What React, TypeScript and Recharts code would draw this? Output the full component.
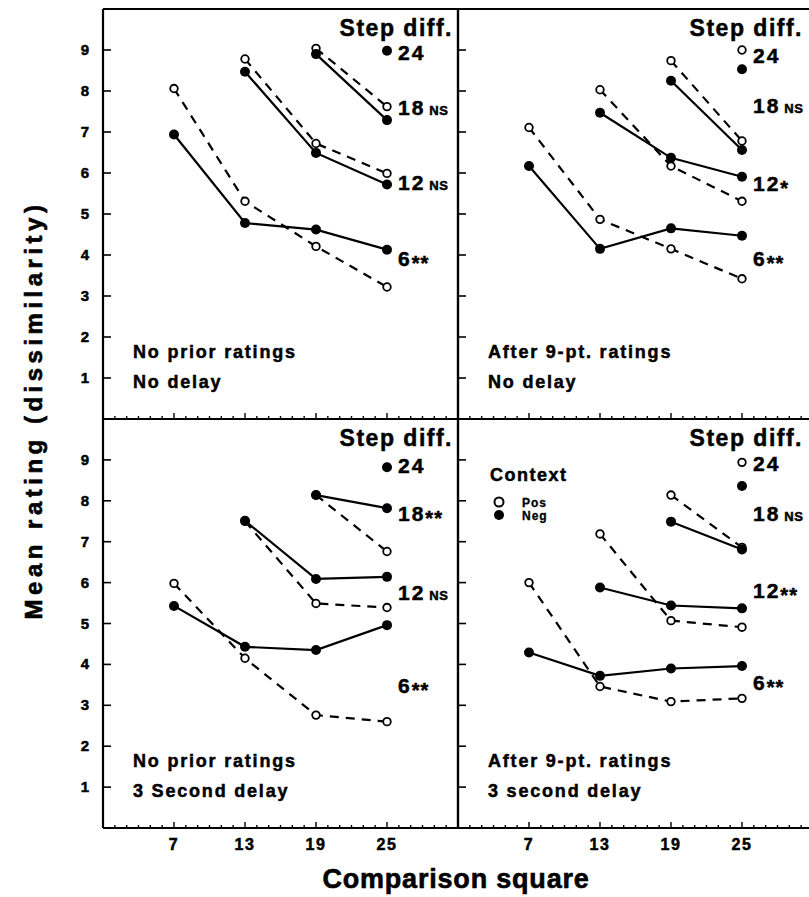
import React from "react";
import { LineChart, Line, XAxis, YAxis, ReferenceDot } from "recharts";

const COMPARISON = [7, 13, 19, 25];
const STEPS = [6, 12, 18, 24];
const X_TICKS = Array.from({ length: 31 }, (_, i) => i + 1);
const Y_TICKS = [1, 2, 3, 4, 5, 6, 7, 8, 9];

// rows: step diff 6, 12, 18, 24 -- cols: comparison square 7, 13, 19, 25
const noPriorNoDelayPos = [
    [8.06, 5.31, 4.21, 3.22],
    [null, 8.78, 6.72, 5.99],
    [null, null, 9.04, 7.62],
    [null, null, null, null],
];
const noPriorNoDelayNeg = [
    [6.94, 4.78, 4.62, 4.13],
    [null, 8.47, 6.49, 5.72],
    [null, null, 8.9, 7.29],
    [null, null, null, 8.98],
];
const afterRatingsNoDelayPos = [
    [7.11, 4.87, 4.15, 3.42],
    [null, 8.03, 6.17, 5.31],
    [null, null, 8.74, 6.78],
    [null, null, null, 9.0],
];
const afterRatingsNoDelayNeg = [
    [6.17, 4.15, 4.65, 4.47],
    [null, 7.47, 6.37, 5.91],
    [null, null, 8.25, 6.56],
    [null, null, null, 8.53],
];
const noPriorDelayPos = [
    [5.98, 4.15, 2.76, 2.6],
    [null, 7.5, 5.49, 5.39],
    [null, null, 8.14, 6.76],
    [null, null, null, null],
];
const noPriorDelayNeg = [
    [5.43, 4.43, 4.35, 4.96],
    [null, 7.51, 6.09, 6.14],
    [null, null, 8.14, 7.82],
    [null, null, null, 8.82],
];
const afterRatingsDelayPos = [
    [6.0, 3.46, 3.09, 3.17],
    [null, 7.19, 5.07, 4.91],
    [null, null, 8.14, 6.86],
    [null, null, null, 8.94],
];
const afterRatingsDelayNeg = [
    [4.29, 3.72, 3.9, 3.96],
    [null, 5.88, 5.44, 5.37],
    [null, null, 7.49, 6.81],
    [null, null, null, 8.36],
];

// significance marks for step 6, 12, 18, 24
const SIG_NO_PRIOR_NO_DELAY = ["**", "NS", "NS", ""];
const SIG_AFTER_NO_DELAY = ["**", "*", "NS", ""];
const SIG_NO_PRIOR_DELAY = ["**", "NS", "**", ""];
const SIG_AFTER_DELAY = ["**", "**", "NS", ""];

const W = 814;
const H = 897;
const FONT = '"Liberation Sans", Arial, Helvetica, sans-serif';
const AXIS = { stroke: "#000", strokeWidth: 2.2 };
// slight outline to get the heavy look of the original lettering
const HEAVY = { stroke: "#000", strokeWidth: 0.5, fill: "#000" };

const toPoints = (vals: (number | null)[]) =>
    COMPARISON.map((x, i) => ({ x, y: vals[i] })).filter((d) => d.y !== null);

const xTick = (dir: number, labels: boolean) => (props: any) => {
    const { x, y, payload } = props;
    const v = payload.value;
    const major = COMPARISON.includes(v);
    const len = major ? 6 : 3;
    return (
        <g>
            <line x1={x} x2={x} y1={y} y2={y + dir * len} stroke="#000" strokeWidth={1.4} />
            {labels && major && (
                <text x={x} y={y + 22} textAnchor="middle" fontSize={16} fontWeight={700} fontFamily={FONT} letterSpacing={1.5} {...HEAVY}>
                    {v}
                </text>
            )}
        </g>
    );
};

const yTick = (dir: number, labels: boolean) => (props: any) => {
    const { x, y, payload } = props;
    return (
        <g>
            <line x1={x} x2={x + dir * 8} y1={y} y2={y} stroke="#000" strokeWidth={1.6} />
            {labels && (
                <text x={x - 14} y={y + 5} textAnchor="end" fontSize={15} fontWeight={700} fontFamily={FONT} {...HEAVY}>
                    {payload.value}
                </text>
            )}
        </g>
    );
};

const openDot = (p: any) =>
    p.cx == null ? <g key={`o${p.index}`} /> : (
        <circle key={`o${p.index}`} cx={p.cx} cy={p.cy} r={3.8} fill="#fff" stroke="#000" strokeWidth={1.8} />
    );
const filledDot = (p: any) =>
    p.cx == null ? <g key={`f${p.index}`} /> : <circle key={`f${p.index}`} cx={p.cx} cy={p.cy} r={5} fill="#000" />;

interface PanelProps {
    pos: (number | null)[][];
    neg: (number | null)[][];
    sig: string[];
    labelY: number[];
    caption: string[];
    isLeft: boolean;
    isTop: boolean;
    legend?: boolean;
}

const Panel: React.FC<PanelProps> = ({ pos, neg, sig, labelY, caption, isLeft, isTop, legend }) => {
    // axes are 1px wide/high, so margins are 1px short of the plot frame
    const margin = {
        top: (isTop ? 9 : 419) - 1,
        bottom: (isTop ? H - 419 : H - 828) - 1,
        left: (isLeft ? 103 : 458) - 1,
        right: (isLeft ? W - 458 : W - 813) - 1,
    };
    const ids = { xAxisId: "bottom", yAxisId: "left" };
    const common = { type: "number" as const, interval: 0, tickSize: 0, tickMargin: 0, tickLine: false, axisLine: AXIS };

    return (
        <div style={{ position: "absolute", left: 0, top: 0 }}>
            <LineChart width={W} height={H} margin={margin}>
                <XAxis xAxisId="bottom" dataKey="x" domain={[1, 31]} ticks={X_TICKS} height={1} tick={xTick(-1, !isTop)} {...common} />
                <XAxis xAxisId="top" orientation="top" dataKey="x" domain={[1, 31]} ticks={X_TICKS} height={1} tick={xTick(1, false)} {...common} />
                <YAxis yAxisId="left" domain={[0, 10]} ticks={Y_TICKS} width={1} tick={yTick(1, isLeft)} {...common} />
                <YAxis yAxisId="right" orientation="right" domain={[0, 10]} ticks={Y_TICKS} width={1} tick={yTick(-1, false)} {...common} />

                {pos.map((vals, i) => (
                    <Line
                        key={`pos${i}`}
                        {...ids}
                        data={toPoints(vals)}
                        dataKey="y"
                        stroke="#000"
                        strokeWidth={2.2}
                        strokeDasharray="9 7"
                        dot={openDot}
                        activeDot={false}
                        isAnimationActive={false}
                    />
                ))}
                {neg.map((vals, i) => (
                    <Line
                        key={`neg${i}`}
                        {...ids}
                        data={toPoints(vals)}
                        dataKey="y"
                        stroke="#000"
                        strokeWidth={2.2}
                        dot={filledDot}
                        activeDot={false}
                        isAnimationActive={false}
                    />
                ))}

                <ReferenceDot
                    {...ids}
                    x={31}
                    y={9.35}
                    r={0}
                    ifOverflow="visible"
                    shape={(p: any) => (
                        <text x={p.cx - (isLeft ? 5 : 10)} y={p.cy} textAnchor="end" fontSize={23} fontWeight={700} fontFamily={FONT} letterSpacing={1.5} {...HEAVY}>
                            Step diff.
                        </text>
                    )}
                />
                {STEPS.map((step, i) => (
                    <ReferenceDot
                        key={`lab${step}`}
                        {...ids}
                        x={25}
                        y={labelY[i]}
                        r={0}
                        ifOverflow="visible"
                        shape={(p: any) => (
                            <text x={p.cx + 11} y={p.cy + 8} fontSize={21} fontWeight={700} fontFamily={FONT} letterSpacing={2} {...HEAVY}>
                                {step}
                                {sig[i] === "NS" && (
                                    <tspan fontSize={13} dx={4} letterSpacing={0.5}>
                                        NS
                                    </tspan>
                                )}
                                {sig[i].startsWith("*") && (
                                    <tspan fontSize={20} dy={4} letterSpacing={1}>
                                        {sig[i]}
                                    </tspan>
                                )}
                            </text>
                        )}
                    />
                ))}
                {caption.map((line, i) => (
                    <ReferenceDot
                        key={`cap${i}`}
                        {...ids}
                        x={1}
                        y={1.5 - i * 0.75}
                        r={0}
                        ifOverflow="visible"
                        shape={(p: any) => (
                            <text x={p.cx + 30} y={p.cy} fontSize={18} fontWeight={700} fontFamily={FONT} letterSpacing={1.8} {...HEAVY}>
                                {line}
                            </text>
                        )}
                    />
                ))}
                {legend && (
                    <ReferenceDot
                        {...ids}
                        x={1}
                        y={10}
                        r={0}
                        ifOverflow="visible"
                        shape={(p: any) => (
                            <g fontFamily={FONT} fontWeight={700}>
                                <text x={p.cx + 32} y={p.cy + 62} fontSize={18} letterSpacing={1.5} {...HEAVY}>
                                    Context
                                </text>
                                <circle cx={p.cx + 41} cy={p.cy + 83} r={4.5} fill="#fff" stroke="#000" strokeWidth={2} />
                                <text x={p.cx + 64} y={p.cy + 87.5} fontSize={12} letterSpacing={1} {...HEAVY} strokeWidth={0.3}>
                                    Pos
                                </text>
                                <circle cx={p.cx + 41} cy={p.cy + 96} r={5} fill="#000" />
                                <text x={p.cx + 64} y={p.cy + 100.5} fontSize={12} letterSpacing={1} {...HEAVY} strokeWidth={0.3}>
                                    Neg
                                </text>
                            </g>
                        )}
                    />
                )}
            </LineChart>
        </div>
    );
};

const App: React.FC = () => {
    return (
        <div
            style={{
                position: "absolute",
                left: 0,
                top: 0,
                width: 809,
                height: 897,
                overflow: "hidden",
                background: "#fff",
                fontFamily: FONT,
            }}
        >
            <Panel
                pos={noPriorNoDelayPos}
                neg={noPriorNoDelayNeg}
                sig={SIG_NO_PRIOR_NO_DELAY}
                labelY={[3.93, 5.78, 7.61, 8.95]}
                caption={["No prior ratings", "No delay"]}
                isLeft
                isTop
            />
            <Panel
                pos={afterRatingsNoDelayPos}
                neg={afterRatingsNoDelayNeg}
                sig={SIG_AFTER_NO_DELAY}
                labelY={[3.93, 5.76, 7.66, 8.88]}
                caption={["After 9-pt. ratings", "No delay"]}
                isLeft={false}
                isTop
            />
            <Panel
                pos={noPriorDelayPos}
                neg={noPriorDelayNeg}
                sig={SIG_NO_PRIOR_DELAY}
                labelY={[3.5, 5.77, 7.7, 8.88]}
                caption={["No prior ratings", "3 Second delay"]}
                isLeft
                isTop={false}
            />
            <Panel
                pos={afterRatingsDelayPos}
                neg={afterRatingsDelayNeg}
                sig={SIG_AFTER_DELAY}
                labelY={[3.57, 5.82, 7.7, 8.92]}
                caption={["After 9-pt. ratings", "3 second delay"]}
                isLeft={false}
                isTop={false}
                legend
            />
            <div
                style={{
                    position: "absolute",
                    left: 34,
                    top: 410,
                    transform: "translate(-50%, -50%) rotate(-90deg)",
                    whiteSpace: "nowrap",
                    fontSize: 24,
                    fontWeight: 700,
                    letterSpacing: 4.5,
                    lineHeight: 1,
                    WebkitTextStroke: "0.6px #000",
                }}
            >
                Mean rating (dissimilarity)
            </div>
            <div
                style={{
                    position: "absolute",
                    left: 456,
                    top: 866,
                    transform: "translateX(-50%)",
                    whiteSpace: "nowrap",
                    fontSize: 27,
                    fontWeight: 700,
                    letterSpacing: 0.8,
                    lineHeight: 1,
                    WebkitTextStroke: "0.6px #000",
                }}
            >
                Comparison square
            </div>
        </div>
    );
};

export default App;
